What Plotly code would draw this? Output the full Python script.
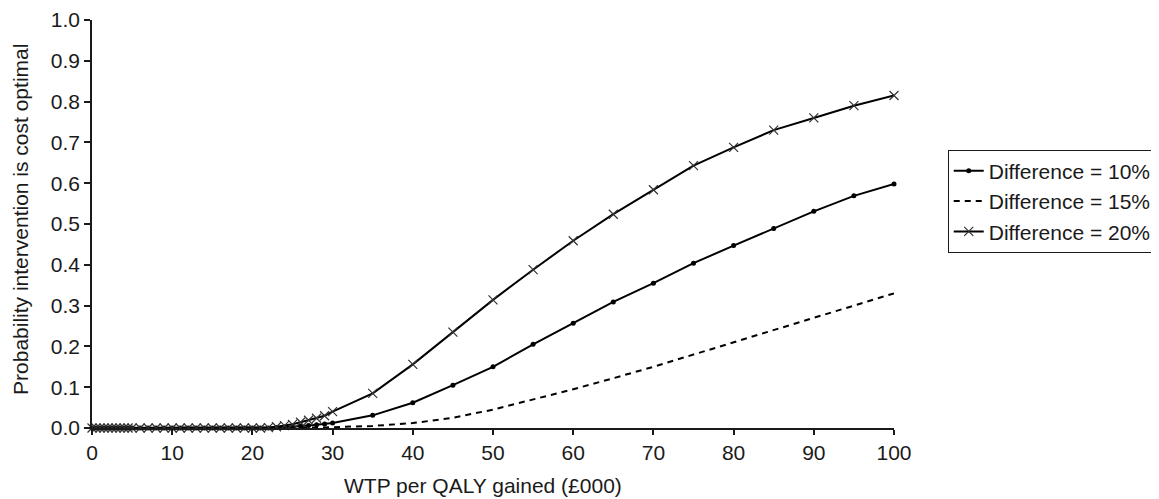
import plotly.graph_objects as go

wtp = [0, 0.5, 1, 1.5, 2, 2.5, 3, 3.5, 4, 4.5, 5, 6, 7, 8, 9, 10, 11, 12, 13, 14, 15,
       16, 17, 18, 19, 20, 21, 22, 23, 24, 25, 26, 27, 28, 29, 30,
       35, 40, 45, 50, 55, 60, 65, 70, 75, 80, 85, 90, 95, 100]

diff10 = [0, 0, 0, 0, 0, 0, 0, 0, 0, 0, 0, 0, 0, 0, 0, 0, 0, 0, 0, 0, 0,
          0, 0, 0, 0, 0, 0, 0, 0.001, 0.002, 0.003, 0.004, 0.006, 0.008, 0.010, 0.012,
          0.031, 0.062, 0.105, 0.150, 0.205, 0.257, 0.309, 0.355, 0.404, 0.447, 0.489, 0.531, 0.569, 0.598]

diff15 = [0, 0, 0, 0, 0, 0, 0, 0, 0, 0, 0, 0, 0, 0, 0, 0, 0, 0, 0, 0, 0,
          0, 0, 0, 0, 0, 0, 0, 0, 0, 0, 0, 0, 0.001, 0.001, 0.002,
          0.005, 0.012, 0.025, 0.045, 0.070, 0.095, 0.122, 0.150, 0.180, 0.210, 0.240, 0.270, 0.300, 0.330]

diff20 = [0, 0, 0, 0, 0, 0, 0, 0, 0, 0, 0, 0, 0, 0, 0, 0, 0, 0, 0, 0, 0,
          0, 0, 0, 0, 0, 0, 0.001, 0.003, 0.006, 0.009, 0.014, 0.019, 0.024, 0.030, 0.040,
          0.085, 0.156, 0.235, 0.314, 0.388, 0.459, 0.524, 0.584, 0.643, 0.688, 0.730, 0.760, 0.790, 0.815]

names = ["Difference = 10%", "Difference = 15%", "Difference = 20%"]
x_ticks = [0, 10, 20, 30, 40, 50, 60, 70, 80, 90, 100]
y_ticks = [0.0, 0.1, 0.2, 0.3, 0.4, 0.5, 0.6, 0.7, 0.8, 0.9, 1.0]
x_title = "WTP per QALY gained (£000)"
y_title = "Probability intervention is cost optimal"

fig = go.Figure()
fig.add_trace(go.Scatter(x=wtp, y=diff10, name=names[0], mode="lines+markers",
                         line=dict(color="black", width=2),
                         marker=dict(symbol="circle", size=5, color="black"),
                         cliponaxis=False))
fig.add_trace(go.Scatter(x=wtp, y=diff15, name=names[1], mode="lines",
                         line=dict(color="black", width=2, dash="6px,5px"),
                         cliponaxis=False))
fig.add_trace(go.Scatter(x=wtp, y=diff20, name=names[2], mode="lines+markers",
                         line=dict(color="black", width=2),
                         marker=dict(symbol="x-thin", size=9, color="#333333",
                                     line=dict(width=1.2, color="#333333")),
                         cliponaxis=False))

font = "Liberation Sans, Arial, sans-serif"
fig.update_layout(
    width=1159, height=499,
    margin=dict(l=84, r=273, t=12, b=79, autoexpand=False),
    paper_bgcolor="white", plot_bgcolor="white",
    font=dict(family=font, size=21, color="#1a1a1a"),
    showlegend=True,
    legend=dict(x=1.067, y=0.556, xanchor="left", yanchor="middle",
                bordercolor="#1a1a1a", borderwidth=1, bgcolor="white",
                font=dict(size=21, color="#1a1a1a"), tracegroupgap=0,
                itemwidth=30),
    xaxis=dict(range=[0, 100], tickvals=x_ticks, showgrid=False, zeroline=False,
               showline=True, linecolor="#1a1a1a", linewidth=1.5,
               ticks="outside", ticklen=5, tickwidth=1.5, tickcolor="#1a1a1a",
               tickfont=dict(size=21), fixedrange=True),
    yaxis=dict(range=[0, 1.0], tickvals=y_ticks, tickformat=".1f", showgrid=False,
               zeroline=False, showline=True, linecolor="#1a1a1a", linewidth=1.5,
               ticks="outside", ticklen=6, tickwidth=1.5, tickcolor="#1a1a1a",
               tickfont=dict(size=21), fixedrange=True),
    annotations=[
        dict(text=x_title, xref="paper", yref="paper", x=0.4875, y=-0.142,
             xanchor="center", yanchor="middle", showarrow=False,
             font=dict(size=21, color="#1a1a1a")),
        dict(text=y_title, xref="paper", yref="paper", x=-0.0885, y=0.51,
             xanchor="center", yanchor="middle", showarrow=False, textangle=-90,
             font=dict(size=21, color="#1a1a1a")),
    ],
)

fig.write_html("out.html")
